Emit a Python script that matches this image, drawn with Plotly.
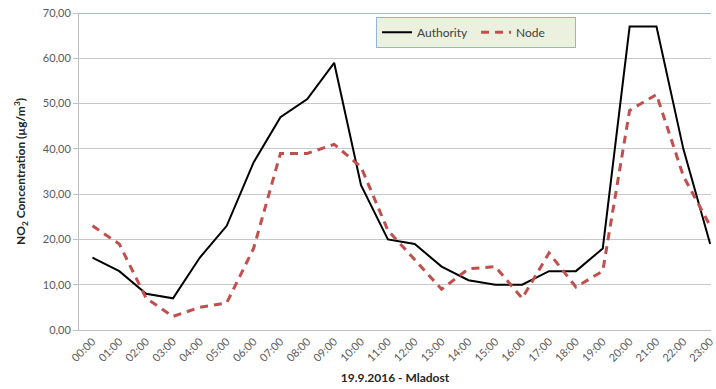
import plotly.graph_objects as go

hours = [f"{h:02d}:00" for h in range(24)]
authority = [16, 13, 8, 7, 16, 23, 37, 47, 51, 59, 32, 20, 19, 14, 11, 10, 10, 13, 13, 18, 67, 67, 40, 19]
node = [23, 19, 7, 3, 5, 6, 18, 39, 39, 41, 36, 22, 15.5, 9, 13.5, 14, 7, 17, 9.5, 13, 48.5, 52, 34, 23]
y_ticks = [0, 10, 20, 30, 40, 50, 60, 70]
y_tick_text = [f"{v:.2f}".replace(".", ",") for v in y_ticks]

font_family = "Lato, 'Open Sans', sans-serif"

fig = go.Figure()
fig.add_trace(go.Scatter(
    x=hours, y=authority, name="Authority", mode="lines",
    line=dict(color="black", width=2),
))
fig.add_trace(go.Scatter(
    x=hours, y=node, name="Node", mode="lines",
    line=dict(color="#C0504D", width=3, dash="8px,6px"),
))

fig.update_layout(
    width=716, height=389,
    margin=dict(l=79, r=0, t=13, b=59),
    paper_bgcolor="white", plot_bgcolor="white",
    font=dict(family=font_family, size=11, color="#595959"),
    showlegend=True,
    legend=dict(
        orientation="h", x=0.47, y=0.988, xanchor="left", yanchor="top",
        bgcolor="#EBF1DE", bordercolor="#95B3D7", borderwidth=1,
        font=dict(family=font_family, size=12, color="#404040"),
        entrywidth=54, itemwidth=30,
    ),
    xaxis=dict(
        type="category", range=[-0.5, 23.03],
        tickangle=-45, showgrid=False,
        showline=True, linecolor="#BFBFBF", linewidth=1,
        ticks="", tickfont=dict(size=11, color="#595959"),
        title=dict(text="<b>19.9.2016 - Mladost</b>", standoff=10,
                   font=dict(size=12, color="#262626")),
    ),
    yaxis=dict(
        range=[0, 70], tickvals=y_ticks, ticktext=y_tick_text,
        showgrid=True, gridcolor="#C8C8C8", gridwidth=1,
        showline=True, linecolor="#BFBFBF", linewidth=1,
        zeroline=False, ticks="outside", ticklen=5, tickcolor="#BFBFBF",
        tickfont=dict(size=11, color="#595959"),
        title=dict(text="<b>NO<sub>2</sub> Concentration (µg/m<sup>3</sup>)</b>",
                   standoff=14, font=dict(size=12, color="#262626")),
    ),
)

# Top border line of the plot area
fig.add_shape(type="line", xref="paper", yref="y", x0=0, x1=1, y0=70, y1=70,
              line=dict(color="#A6B6CC", width=2), layer="below")

fig.write_html("out.html")
